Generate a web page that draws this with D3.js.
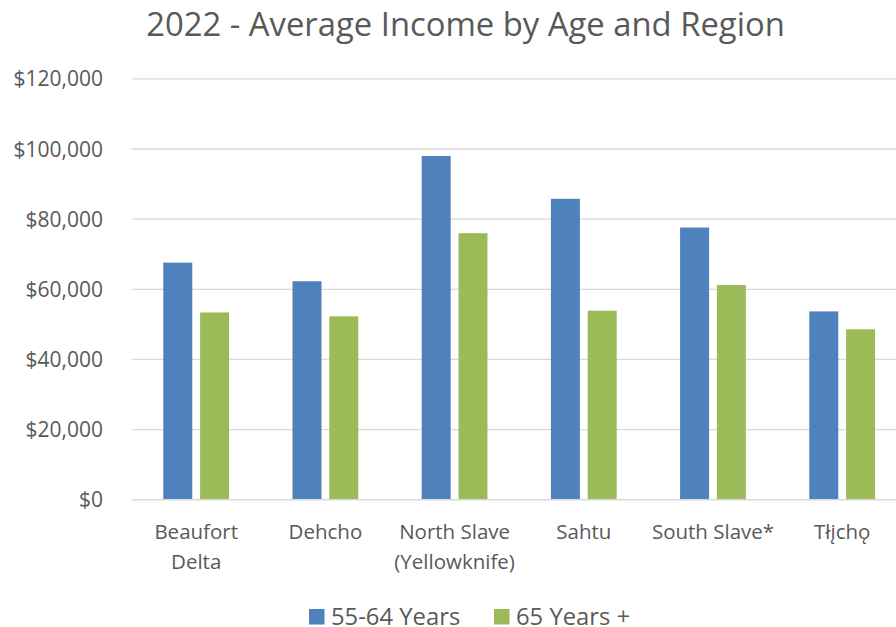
<!DOCTYPE html>
<html><head><meta charset="utf-8">
<script src="https://cdn.jsdelivr.net/npm/d3@7"></script>
<style>
html,body{margin:0;padding:0;background:#fff;overflow:hidden}
svg{display:block}
text{font-family:"Open Sans",sans-serif;fill:#595959}
</style></head>
<body>
<script>
const categories = [["Beaufort","Delta"],["Dehcho"],["North Slave","(Yellowknife)"],["Sahtu"],["South Slave*"],["Tłįchǫ"]];
const seriesNames = ["55-64 Years","65 Years +"];
const values55 = [67600, 62300, 98000, 85800, 77600, 53700];
const values65 = [53400, 52300, 76000, 53900, 61200, 48600];
const yTicks = [0,20000,40000,60000,80000,100000,120000];
const colors = ["#4F81BD","#9BBB59"];

(function(){
const W=896,H=627;
const svg=d3.select("body").append("svg").attr("width",W).attr("height",H);
const pl=131.6,pr=906.8,pt=78.85,pb=499.75;
const catKeys=categories.map(c=>c.join(" "));
const x0=d3.scaleBand().domain(catKeys).range([pl,pr]).padding(0);
const bw=x0.bandwidth();
const x1=d3.scaleBand().domain(seriesNames).range([0.2453*bw,0.7545*bw]).paddingInner(0.212);
const y=d3.scaleLinear().domain([0,120000]).range([pb,pt]);

// gridlines
svg.append("g").selectAll("line").data(yTicks.filter(d=>d>0)).join("line")
  .attr("x1",pl).attr("x2",pr).attr("y1",d=>y(d)).attr("y2",d=>y(d))
  .attr("stroke","#d9d9d9").attr("stroke-width",1.3);

// y axis labels
const yAxis=d3.axisLeft(y).tickValues(yTicks).tickSize(0).tickPadding(0)
  .tickFormat(d=>"$"+d3.format(",")(d));
const ya=svg.append("g").attr("transform",`translate(103,0)`).call(yAxis);
ya.select(".domain").remove();
ya.selectAll("text").style("font-size","21px").attr("fill","#595959").attr("dy","0.34em")
  .style("font-family","'Open Sans',sans-serif");

// bars
const data=catKeys.map((k,i)=>({k,vals:[values55[i],values65[i]]}));
const g=svg.append("g");
data.forEach(d=>{
  g.selectAll(null).data(d.vals).join("rect")
    .attr("x",(v,j)=>x0(d.k)+x1(seriesNames[j]))
    .attr("width",x1.bandwidth())
    .attr("y",v=>y(v)).attr("height",v=>pb-y(v))
    .attr("fill",(v,j)=>colors[j]);
});

// x axis line
svg.append("line").attr("x1",pl).attr("x2",pr).attr("y1",pb).attr("y2",pb)
  .attr("stroke","#d9d9d9").attr("stroke-width",1.3);

// category labels
const cl=svg.append("g");
categories.forEach((c,i)=>{
  const t=cl.append("text").attr("text-anchor","middle")
    .attr("x",x0(catKeys[i])+bw/2).attr("y",539).style("font-size","20.5px");
  c.forEach((line,j)=>t.append("tspan").attr("x",x0(catKeys[i])+bw/2).attr("y",539+j*30).text(line));
});

// title
svg.append("text").attr("x",465.5).attr("y",36).attr("text-anchor","middle")
  .style("font-size","32.8px").text("2022 - Average Income by Age and Region");

// legend
const legX=[309,494];
seriesNames.forEach((s,i)=>{
  svg.append("rect").attr("x",legX[i]).attr("y",609).attr("width",15.5).attr("height",15.5).attr("fill",colors[i]);
  svg.append("text").attr("x",legX[i]+22).attr("y",624.5).style("font-size","23.8px").text(s);
});
})();
</script>
</body></html>
